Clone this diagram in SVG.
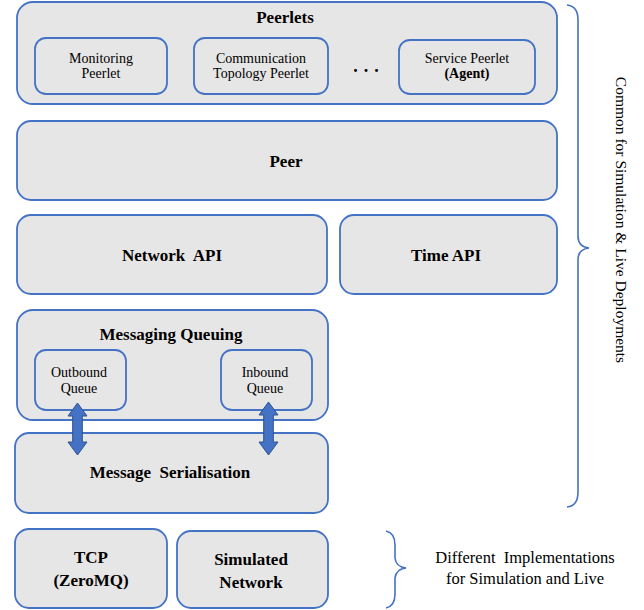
<svg xmlns="http://www.w3.org/2000/svg" width="644" height="610" viewBox="0 0 644 610">
<style>
.box{fill:#E7E6E6;stroke:#4472C4;stroke-width:1.8}
.inner{fill:#E7E6E6;stroke:#4472C4;stroke-width:1.8}
text{font-family:"Liberation Serif","DejaVu Serif","Times New Roman",serif;fill:#000;text-anchor:middle}
.b{font-weight:bold;font-size:17px}
.s{font-size:14px}
.brace{fill:none;stroke:#4472C4;stroke-width:1.6}
.arr{fill:#4472C4;stroke:#2F528F;stroke-width:1}
</style>
<rect width="644" height="610" fill="#fff"/>
<g id="peerlets">
<rect class="box" x="17" y="2" width="540" height="102" rx="16"/>
<text class="b" x="285" y="23" font-size="16.5">Peerlets</text>
</g>
<g id="monitoring-peerlet">
<rect class="inner" x="35" y="38" width="132" height="56" rx="11"/>
<text class="s" x="101" y="63">Monitoring</text>
<text class="s" x="101" y="78">Peerlet</text>
</g>
<g id="communication-topology-peerlet">
<rect class="inner" x="194" y="38" width="134" height="56" rx="11"/>
<text class="s" x="261" y="63">Communication</text>
<text class="s" x="261" y="78">Topology Peerlet</text>
</g>
<g id="ellipsis">
<text x="369" y="72" font-size="18" font-weight="bold" letter-spacing="6">...</text>
</g>
<g id="service-peerlet">
<rect class="inner" x="399" y="40" width="136" height="54" rx="11"/>
<text class="s" x="467" y="63">Service Peerlet</text>
<text class="s" x="467" y="78" font-weight="bold">(Agent)</text>
</g>
<g id="peer">
<rect class="box" x="17" y="121" width="540" height="79" rx="14"/>
<text class="b" x="286" y="167">Peer</text>
</g>
<g id="network-api">
<rect class="box" x="17" y="215" width="310" height="79" rx="14"/>
<text class="b" x="172" y="261" xml:space="preserve">Network  API</text>
</g>
<g id="time-api">
<rect class="box" x="340" y="215" width="217" height="79" rx="14"/>
<text class="b" x="446" y="261" font-size="17.5">Time API</text>
</g>
<g id="messaging-queuing">
<rect class="box" x="17" y="310" width="311" height="110" rx="16"/>
<text class="b" x="171" y="340" font-size="18">Messaging Queuing</text>
</g>
<g id="outbound-queue">
<rect class="inner" x="35" y="350" width="91" height="60" rx="11"/>
<text class="s" x="79" y="377">Outbound</text>
<text class="s" x="79" y="393">Queue</text>
</g>
<g id="inbound-queue">
<rect class="inner" x="221" y="350" width="91" height="60" rx="11"/>
<text class="s" x="265" y="377">Inbound</text>
<text class="s" x="265" y="393">Queue</text>
</g>
<g id="message-serialisation">
<rect class="box" x="15" y="433" width="313" height="80" rx="14"/>
<text class="b" x="170" y="478" font-size="17.5" xml:space="preserve">Message  Serialisation</text>
</g>
<g id="tcp">
<rect class="box" x="15" y="529" width="152" height="79" rx="14"/>
<text class="b" x="91" y="563" font-size="17.5">TCP</text>
<text class="b" x="91" y="586" font-size="17.5">(ZeroMQ)</text>
</g>
<g id="simulated-network">
<rect class="box" x="177" y="531" width="151" height="77" rx="14"/>
<text class="b" x="251" y="565" font-size="17.5">Simulated</text>
<text class="b" x="251" y="588" font-size="17.5">Network</text>
</g>
<g id="connectors">
<polygon class="arr" points="77.5,403 87,416 82.3,416 82.3,442 87,442 77.5,455 68,442 72.7,442 72.7,416 68,416"/>
<polygon class="arr" points="268.5,402 278,415 273.3,415 273.3,442 278,442 268.5,455 259,442 263.7,442 263.7,415 259,415"/>
</g>
<g id="common-brace">
<path class="brace" d="M567,5 Q578,6 578,20 L578,236 Q578,247 589,248 Q578,249 578,260 L578,492 Q578,506 567,507"/>
<text transform="translate(616,220) rotate(90)" font-size="15.5">Common for Simulation &amp; Live Deployments</text>
</g>
<g id="different-brace">
<path class="brace" d="M386,531 Q395,533 395,545 L395,558 Q396,567 406,568 Q396,569 395,578 L395,594 Q395,606 386,608"/>
<text x="525" y="563" font-size="16.5" xml:space="preserve">Different  Implementations</text>
<text x="525" y="584" font-size="16.5">for Simulation and Live</text>
</g>
</svg>
